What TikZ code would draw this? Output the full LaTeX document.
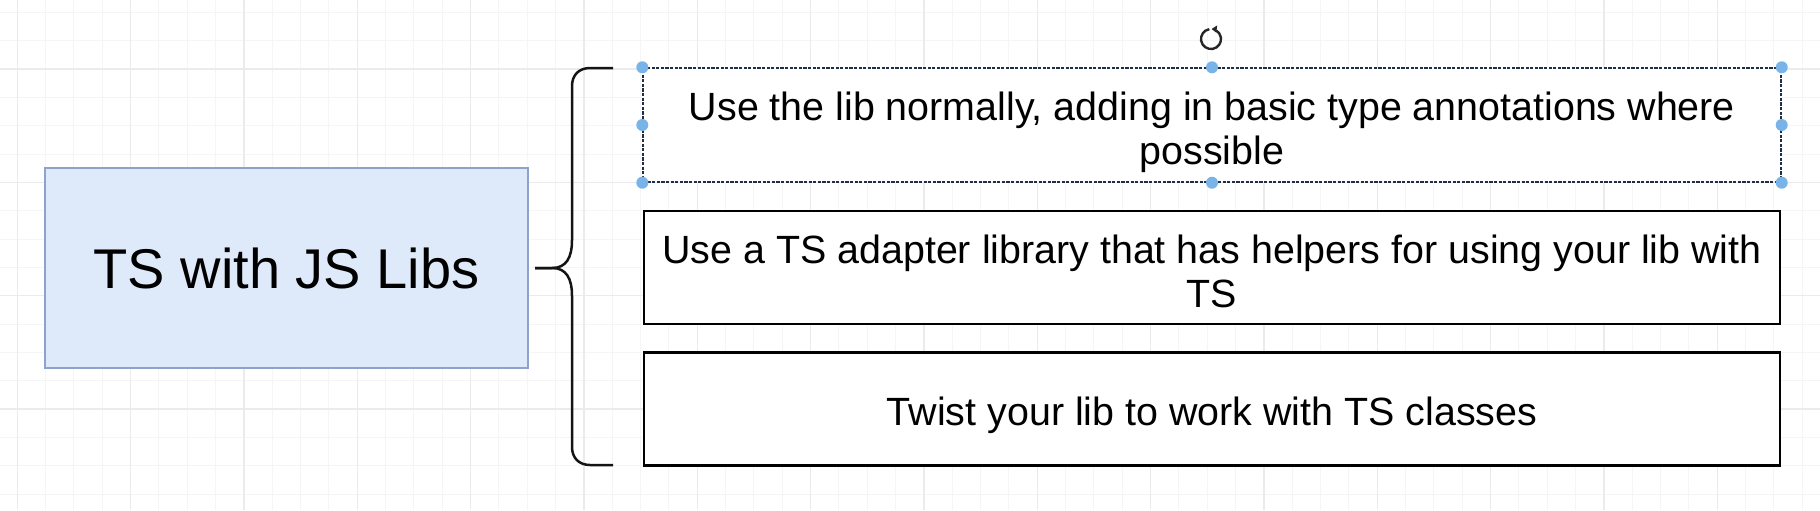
\documentclass[tikz,border=0pt]{standalone}
\usepackage{fontspec}
\setmainfont{Liberation Sans}
\usetikzlibrary{arrows.meta}
\definecolor{gridminor}{HTML}{F5F5F5}
\definecolor{gridmajor}{HTML}{EBEBEB}
\definecolor{mainfill}{HTML}{DEE9F9}
\definecolor{maindraw}{HTML}{8DA3CB}
\definecolor{handle}{HTML}{78B4E8}
\definecolor{selline}{HTML}{1E2E48}
\tikzset{
  gridminorline/.style={draw=gridminor, line width=0.5pt},
  gridmajorline/.style={draw=gridmajor, line width=0.7pt},
  mainbox/.style={draw=maindraw, fill=mainfill, line width=1pt, inner sep=0pt,
    minimum width=241.5pt, minimum height=100pt, font=\fontsize{28}{32}\selectfont},
  optbox/.style={draw=black, line width=1.3pt, fill=white, inner sep=0pt,
    minimum width=568pt, minimum height=56.5pt},
  selbox/.style={draw=selline, line width=0.7pt, dash pattern=on 1.6pt off 0.7pt,
    fill=white, inner sep=0pt, minimum width=569pt, minimum height=57pt},
  boxtext/.style={inner sep=0pt, align=center, font=\fontsize{19.7}{22}\selectfont},
  handledot/.style={fill=handle},
  bracestyle/.style={draw=black!92, line width=1.25pt, line join=round},
}
\begin{document}
\begin{tikzpicture}[x=0.5pt,y=-0.5pt]
\useasboundingbox (0,0) rectangle (1820,510);
\fill[white] (0,0) rectangle (1820,510);
\begin{scope}
\clip (0,0) rectangle (1820,510);
\foreach \i in {0,...,64} \draw[gridminorline] ({17.3+\i*28.333},0) -- ({17.3+\i*28.333},510);
\foreach \j in {-2,...,16} \draw[gridminorline] (0,{69+\j*28.333}) -- (1820,{69+\j*28.333});
\foreach \i in {0,...,16} \draw[gridmajorline] ({17.3+\i*113.33},0) -- ({17.3+\i*113.33},510);
\foreach \j in {0,...,4} \draw[gridmajorline] (0,{69+\j*113.33}) -- (1820,{69+\j*113.33});
\end{scope}

% main box
\node[mainbox] (main) at (286.5,268) {TS with JS Libs};

% brace
\coordinate (btop) at (613,68);
\coordinate (btip) at (535,268);
\coordinate (bbot) at (613,465);
\draw[bracestyle] (btop) -- (590,68) .. controls (579,68) and (572,75) .. (572,86)
  -- (572,240) .. controls (572,258) and (566,268) .. (552,268) -- (btip);
\draw[bracestyle] (btip) -- (552,268) .. controls (566,268) and (572,278) .. (572,296)
  -- (572,447) .. controls (572,458) and (579,465) .. (590,465) -- (bbot);

% option boxes
\node[selbox] (b1) at (1212,125) {};
\node[boxtext] (b1t) at ([yshift=-3.5pt]b1.center) {Use the lib normally, adding in basic type annotations where\\possible};
\node[optbox] (b2) at (1212,267.5) {};
\node[boxtext] (b2t) at ([yshift=-2pt]b2.center) {Use a TS adapter library that has helpers for using your lib with\\TS};
\node[optbox] (b3) at (1212,409) {};
\node[boxtext] (b3t) at ([yshift=-3pt]b3.center) {Twist your lib to work with TS classes};

% selection handles
\foreach \a in {north west,north,north east,west,east,south west,south,south east}
  \fill[handledot] (b1.\a) circle (3pt);

% rotation icon
\coordinate (rot) at (1211,39);
\draw[line width=1.2pt, black!85] ([shift={(100:5pt)}]rot) arc[start angle=100, end angle=420, radius=5pt];
\fill[black!85] ([shift={(0.3pt,5pt)}]rot) -- ++(2.8pt,1.8pt) -- ++(-0.5pt,-3.6pt) -- cycle;
\end{tikzpicture}
\end{document}
